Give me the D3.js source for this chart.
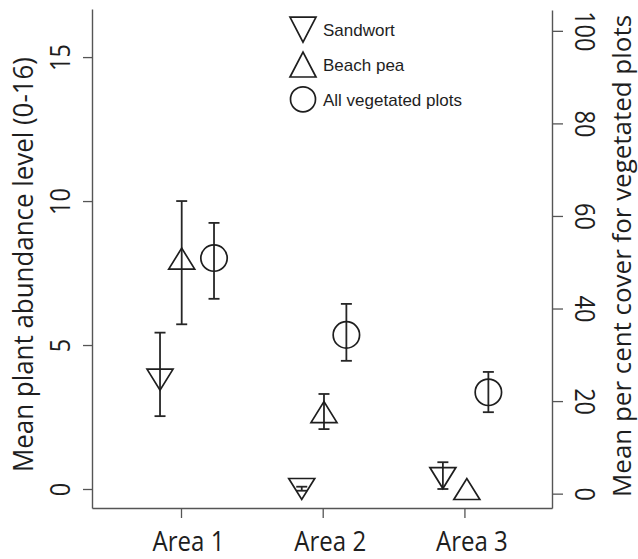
<!DOCTYPE html>
<html>
<head>
<meta charset="utf-8">
<script src="https://cdn.jsdelivr.net/npm/d3@7"></script>
<style>
  html, body { margin: 0; padding: 0; background: #fff; }
  svg { display: block; }
</style>
</head>
<body>
<svg id="chart" width="638" height="559"></svg>
<script>
// ---------- data ----------
const areas = ["Area 1", "Area 2", "Area 3"];
const leftTicks = [0, 5, 10, 15];
const rightTicks = [0, 20, 40, 60, 80, 100];

// Sandwort (left axis, abundance level)
const sandwortX    = [0.852, 1.852, 2.848];
const sandwortMean = [3.8, 0.0, 0.38];
const sandwortLo   = [2.53, -0.06, 0.0];
const sandwortHi   = [5.43, 0.08, 0.93];

// Beach pea (left axis, abundance level)
const beachX    = [1.005, 2.009, 3.017];
const beachMean = [8.0, 2.67, 0.0];
const beachLo   = [5.72, 2.08, 0.0];
const beachHi   = [10.0, 3.3, 0.0];

// All vegetated plots (right axis, per cent cover)
const vegX    = [1.233, 2.167, 3.169];
const vegMean = [50.9, 34.3, 21.9];
const vegLo   = [42.1, 28.7, 17.6];
const vegHi   = [58.5, 41.0, 26.3];

const legendLabels = ["Sandwort", "Beach pea", "All vegetated plots"];

// ---------- layout ----------
const svg = d3.select("#chart");
const plotLeft = 92, plotRight = 552, plotTop = 9, plotBottom = 508;
const ink = "#1e1e1e";
const axisCol = "#555";
const myriad = "'Open Sans', 'Noto Sans', sans-serif";

const x = d3.scaleLinear().domain([0.372, 3.618]).range([plotLeft, plotRight]);
const yL = d3.scaleLinear().domain([-0.66, 16.67]).range([plotBottom, plotTop]);
const yR = d3.scaleLinear().domain([-3.1, 104.5]).range([plotBottom, 10]);

// ---------- axes ----------
const gL = svg.append("g").attr("transform", `translate(${plotLeft},0)`)
  .call(d3.axisLeft(yL).tickValues(leftTicks).tickSize(9).tickSizeOuter(0));
const gR = svg.append("g").attr("transform", `translate(${plotRight},0)`)
  .call(d3.axisRight(yR).tickValues(rightTicks).tickSize(11).tickSizeOuter(0));
const gB = svg.append("g").attr("transform", `translate(0,${plotBottom})`)
  .call(d3.axisBottom(x).tickValues([1, 2, 3]).tickFormat((d, i) => areas[i]).tickSize(10).tickSizeOuter(0));

[gL, gR, gB].forEach(g => {
  g.select(".domain").attr("stroke", axisCol).attr("stroke-width", 1.4);
  g.selectAll(".tick line").attr("stroke", axisCol).attr("stroke-width", 1.3);
  g.selectAll("text").attr("fill", ink).style("font-family", myriad).style("font-size", "27px");
});

gL.selectAll(".tick text")
  .attr("x", null).attr("y", null).attr("dy", null)
  .attr("text-anchor", "middle")
  .attr("transform", "translate(-22,0) rotate(-90) scale(0.87,1)");

gR.selectAll(".tick text")
  .attr("x", null).attr("y", null).attr("dy", null)
  .attr("text-anchor", "middle")
  .attr("transform", "translate(23,0) rotate(90) scale(0.87,1)");

gB.selectAll(".tick text")
  .attr("y", null).attr("dy", null).attr("x", null)
  .attr("text-anchor", "middle")
  .attr("transform", "translate(7,42.7) scale(0.89,1)");

// axis titles
svg.append("text")
  .attr("transform", "translate(33,264.5) rotate(-90)")
  .attr("text-anchor", "middle")
  .attr("fill", ink)
  .style("font-family", myriad).style("font-size", "27px")
  .attr("textLength", 415).attr("lengthAdjust", "spacingAndGlyphs")
  .text("Mean plant abundance level (0-16)");

svg.append("text")
  .attr("transform", "translate(631,256) rotate(-90)")
  .attr("text-anchor", "middle")
  .attr("fill", ink)
  .style("font-family", myriad).style("font-size", "26px")
  .attr("textLength", 482).attr("lengthAdjust", "spacingAndGlyphs")
  .text("Mean per cent cover for vegetated plots");

// ---------- marks ----------
const capW = 5.5;
function errorBars(xs, lo, hi, yScale) {
  const g = svg.append("g").attr("stroke", "#262626").attr("stroke-width", 1.8).attr("fill", "none");
  xs.forEach((xv, i) => {
    if (hi[i] === lo[i]) return;
    const cx = x(xv), y1 = yScale(hi[i]), y2 = yScale(lo[i]);
    g.append("line").attr("x1", cx).attr("x2", cx).attr("y1", y1).attr("y2", y2);
    g.append("line").attr("x1", cx - capW).attr("x2", cx + capW).attr("y1", y1).attr("y2", y1);
    g.append("line").attr("x1", cx - capW).attr("x2", cx + capW).attr("y1", y2).attr("y2", y2);
  });
}

function triPath(cx, cy, w, h, down) {
  const s = down ? -1 : 1;
  return `M${cx - w / 2},${cy + s * h / 2}L${cx + w / 2},${cy + s * h / 2}L${cx},${cy - s * h / 2}Z`;
}

const symStyle = g => g.attr("fill", "none").attr("stroke", ink).attr("stroke-width", 1.7).attr("stroke-linejoin", "miter");

// sandwort
errorBars(sandwortX, sandwortLo, sandwortHi, yL);
svg.append("g").call(symStyle).selectAll("path")
  .data(sandwortMean).join("path")
  .attr("d", (d, i) => triPath(x(sandwortX[i]), yL(d), 26, 21, true));

// beach pea
errorBars(beachX, beachLo, beachHi, yL);
svg.append("g").call(symStyle).selectAll("path")
  .data(beachMean).join("path")
  .attr("d", (d, i) => triPath(x(beachX[i]), yL(d), 26, 21, false));

// vegetated plots
errorBars(vegX, vegLo, vegHi, yR);
svg.append("g").call(symStyle).selectAll("circle")
  .data(vegMean).join("circle")
  .attr("cx", (d, i) => x(vegX[i]))
  .attr("cy", d => yR(d))
  .attr("r", 13.2);

// ---------- legend ----------
const legend = svg.append("g").attr("transform", "translate(303,29.7)");
const rowH = 34.8;
legendLabels.forEach((lab, i) => {
  const row = legend.append("g").attr("transform", `translate(0,${i * rowH})`);
  if (i === 2) {
    row.append("circle").attr("r", 12.5).call(symStyle);
  } else {
    row.append("path").attr("d", triPath(0, 0, 26, 25, i === 0)).call(symStyle);
  }
  row.append("text")
    .attr("x", 20).attr("y", 6.5)
    .attr("fill", ink)
    .style("font-family", "'Liberation Sans', Arial, sans-serif")
    .style("font-size", "17px")
    .text(lab);
});
</script>
</body>
</html>
